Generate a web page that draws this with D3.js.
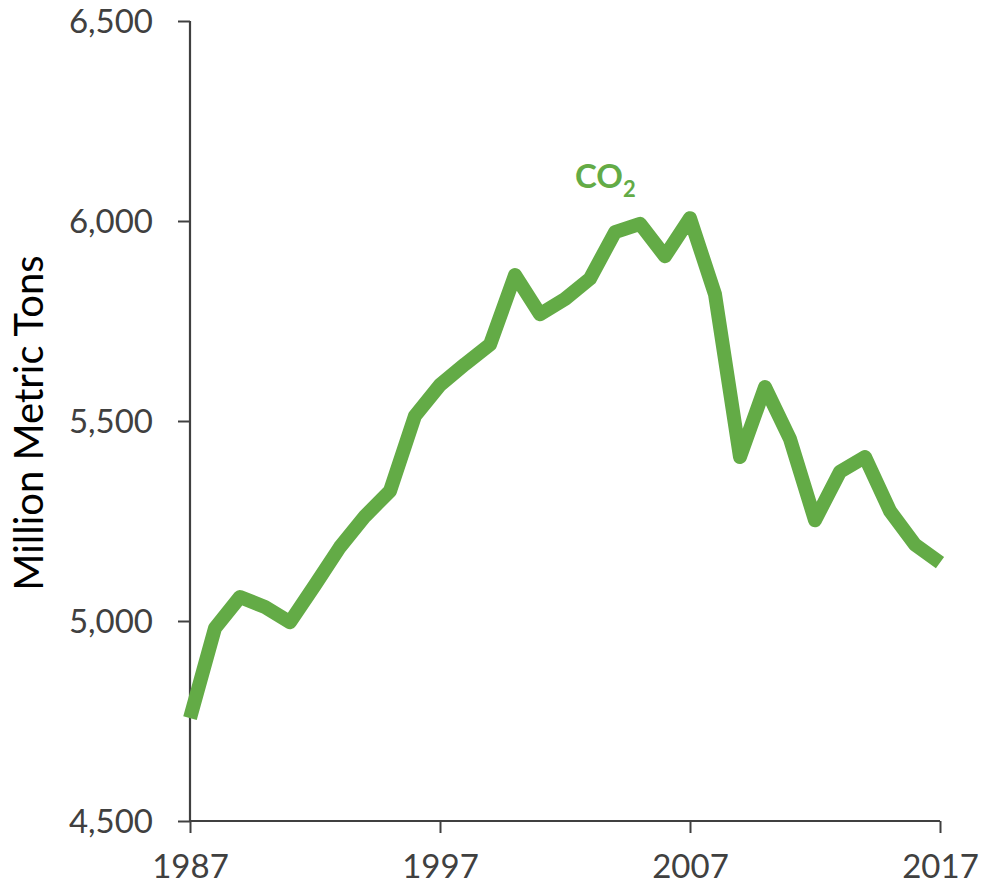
<!DOCTYPE html>
<html>
<head>
<meta charset="utf-8">
<script src="https://cdn.jsdelivr.net/npm/d3@7"></script>
<style>
  body { margin: 0; background: #fff; }
  svg text { font-family: Lato, "Open Sans", sans-serif; }
</style>
</head>
<body>
<svg id="chart" width="982" height="890"></svg>
<script>
// CO2 emissions, million metric tons
const years = d3.range(1987, 2018);
const co2 = [
  4757, 4982, 5060, 5035, 4997, 5090, 5185, 5262, 5325, 5513,
  5590, 5642, 5691, 5865, 5767, 5805, 5856, 5972, 5993, 5912,
  6007, 5817, 5410, 5585, 5455, 5252, 5373, 5410, 5275, 5191,
  5146
];
const yTicks = [4500, 5000, 5500, 6000, 6500];
const xTicks = [1987, 1997, 2007, 2017];
const seriesLabel = "CO";

const margin = { top: 21, right: 42, bottom: 69, left: 190 };
const svg = d3.select("#chart");
const width = +svg.attr("width") - margin.left - margin.right;
const height = +svg.attr("height") - margin.top - margin.bottom;
const g = svg.append("g").attr("transform", `translate(${margin.left},${margin.top})`);

const x = d3.scaleLinear().domain([1987, 2017]).range([0, width]);
const y = d3.scaleLinear().domain([4500, 6500]).range([height, 0]);

const axisColor = "#404040";

// y axis
const yAxis = g.append("g")
  .call(d3.axisLeft(y).tickValues(yTicks).tickSize(12).tickPadding(25).tickFormat(d3.format(",")));
yAxis.select(".domain").attr("stroke", axisColor).attr("stroke-width", 2.2).attr("d", `M0,0V${height}`);
yAxis.selectAll(".tick line").attr("stroke", axisColor).attr("stroke-width", 2);
yAxis.selectAll(".tick text")
  .attr("fill", axisColor)
  .style("font-size", "33px")
  .attr("dy", "0.34em");

// x axis
const xAxis = g.append("g")
  .attr("transform", `translate(0,${height})`)
  .call(d3.axisBottom(x).tickValues(xTicks).tickSize(12).tickPadding(22).tickFormat(d3.format("d")));
xAxis.select(".domain").attr("stroke", axisColor).attr("stroke-width", 2.2).attr("d", `M0,0H${width}`);
xAxis.selectAll(".tick line").attr("stroke", axisColor).attr("stroke-width", 2);
xAxis.selectAll(".tick text")
  .attr("fill", axisColor)
  .style("font-size", "33px");

// axis title
svg.append("text")
  .attr("transform", `translate(43,423) rotate(-90)`)
  .attr("text-anchor", "middle")
  .attr("fill", "#000")
  .style("font-size", "40px")
  .text("Million Metric Tons");

// line
const line = d3.line()
  .x((d, i) => x(years[i]))
  .y(d => y(d));

g.append("path")
  .datum(co2)
  .attr("fill", "none")
  .attr("stroke", "#63ab46")
  .attr("stroke-width", 14)
  .attr("stroke-linejoin", "round")
  .attr("stroke-linecap", "butt")
  .attr("d", line);

// series label
const lbl = g.append("text")
  .attr("x", x(2002.4))
  .attr("y", y(6082))
  .attr("fill", "#63ab46")
  .style("font-size", "33px")
  .style("font-weight", "bold");
lbl.append("tspan").text(seriesLabel);
lbl.append("tspan").attr("dy", 9).style("font-size", "22px").text("2");
</script>
</body>
</html>
